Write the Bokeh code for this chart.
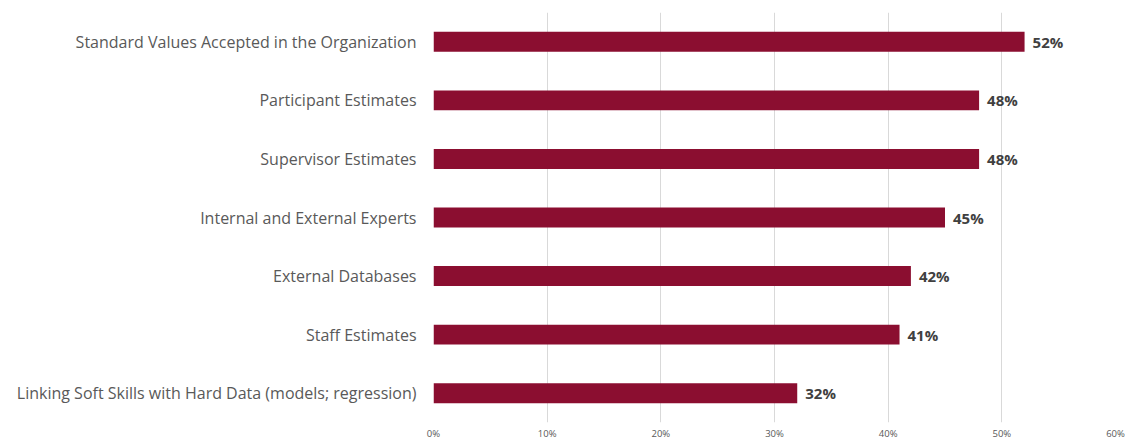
from bokeh.plotting import figure
from bokeh.models import ColumnDataSource, FactorRange, Range1d, NumeralTickFormatter, FixedTicker
from bokeh.core.properties import value
from bokeh.embed import file_html
from bokeh.resources import INLINE

categories = [
    "Standard Values Accepted in the Organization",
    "Participant Estimates",
    "Supervisor Estimates",
    "Internal and External Experts",
    "External Databases",
    "Staff Estimates",
    "Linking Soft Skills with Hard Data (models; regression)",
]
values = [0.52, 0.48, 0.48, 0.45, 0.42, 0.41, 0.32]
labels = ["52%", "48%", "48%", "45%", "42%", "41%", "32%"]
x_ticks = [0, 0.1, 0.2, 0.3, 0.4, 0.5, 0.6]

src = ColumnDataSource(dict(cat=categories, val=values, lab=labels))

p = figure(
    width=1128, height=442,
    y_range=FactorRange(factors=list(reversed(categories)), range_padding=0),
    x_range=Range1d(0, 0.6),
    output_backend="svg", toolbar_location=None,
    min_border_left=433, min_border_right=13, min_border_top=12, min_border_bottom=20,
)
p.outline_line_color = None
p.background_fill_color = "white"
p.border_fill_color = "white"

p.hbar(y="cat", right="val", left=0, height=0.34, source=src,
       fill_color="#8B0E30", line_color=None)
p.text(x="val", y="cat", text="lab", source=src, x_offset=8,
       text_baseline="middle", text_align="left",
       text_font=value("Open Sans"), text_font_style="bold",
       text_font_size="15px", text_color="#404040")

p.xaxis.ticker = FixedTicker(ticks=x_ticks)
p.xaxis.formatter = NumeralTickFormatter(format="0%")
p.xaxis.axis_line_color = None
p.xaxis.major_tick_line_color = None
p.xaxis.minor_tick_line_color = None
p.xaxis.major_label_standoff = -2
p.xaxis.major_label_text_font = "Open Sans"
p.xaxis.major_label_text_font_size = "9.5px"
p.xaxis.major_label_text_color = "#595959"

p.yaxis.axis_line_color = None
p.yaxis.major_tick_line_color = None
p.yaxis.minor_tick_line_color = None
p.yaxis.major_label_standoff = 11
p.yaxis.major_label_text_font = "Open Sans"
p.yaxis.major_label_text_font_size = "16px"
p.yaxis.major_label_text_color = "#595959"

p.xgrid.grid_line_color = "#D9D9D9"
p.xgrid.ticker = FixedTicker(ticks=x_ticks)
p.ygrid.grid_line_color = None

open("out.html", "w").write(file_html(p, INLINE))
